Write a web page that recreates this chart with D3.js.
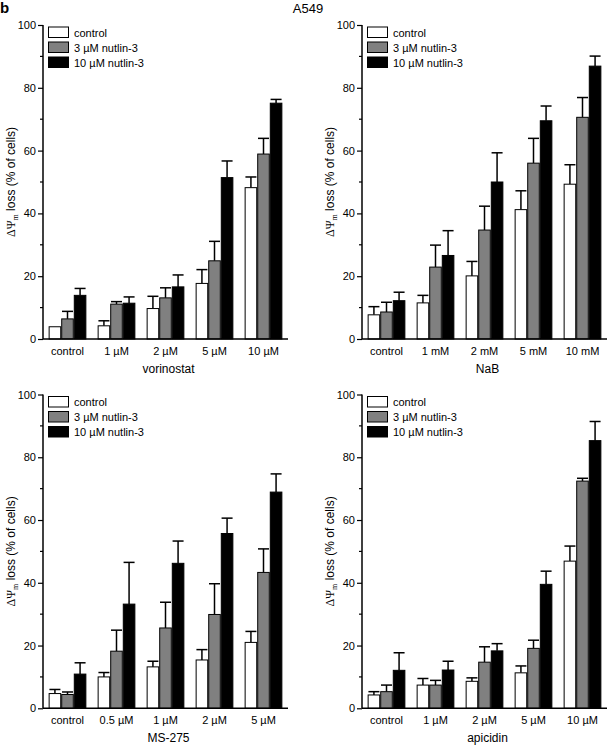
<!DOCTYPE html>
<html><head><meta charset="utf-8">
<script src="https://cdn.jsdelivr.net/npm/d3@7"></script>
<style>body{margin:0;background:#fff}svg{display:block}text{font-family:"Liberation Sans",Arial,sans-serif}</style>
</head><body>
<svg id="c" width="607" height="746"></svg>
<script>
const seriesNames = ["control", "3 µM nutlin-3", "10 µM nutlin-3"];
const seriesColors = ["#ffffff", "#808080", "#000000"];
const yTicks = [0, 20, 40, 60, 80, 100];
const yMinorTicks = [10, 30, 50, 70, 90];

const vorinostatCats = ["control", "1 µM", "2 µM", "5 µM", "10 µM"];
const vorinostatMean = [[3.9, 4.2, 9.7, 17.7, 48.2], [6.4, 11.1, 13.1, 24.9, 58.9], [13.9, 11.4, 16.6, 51.4, 75.1]];
const vorinostatErr  = [[3.9, 5.8, 13.6, 22.1, 51.6], [8.8, 11.9, 16.3, 31.1, 63.9], [16.1, 13.4, 20.4, 56.7, 76.3]];

const nabCats = ["control", "1 mM", "2 mM", "5 mM", "10 mM"];
const nabMean = [[7.7, 11.5, 20.1, 41.2, 49.3], [8.6, 22.9, 34.7, 56.0, 70.6], [12.2, 26.6, 50.0, 69.5, 86.9]];
const nabErr  = [[10.3, 13.9, 24.7, 47.2, 55.5], [11.7, 29.9, 42.3, 63.9, 76.9], [14.9, 34.5, 59.3, 74.2, 90.1]];

const ms275Cats = ["control", "0.5 µM", "1 µM", "2 µM", "5 µM"];
const ms275Mean = [[4.7, 10.0, 13.2, 15.4, 21.0], [4.4, 18.2, 25.6, 29.9, 43.3], [10.9, 33.2, 46.2, 55.7, 68.9]];
const ms275Err  = [[6.0, 11.4, 15.0, 18.7, 24.5], [5.2, 24.9, 33.8, 39.7, 50.8], [14.5, 46.5, 53.3, 60.6, 74.7]];

const apicidinCats = ["control", "1 µM", "2 µM", "5 µM", "10 µM"];
const apicidinMean = [[4.25, 7.4, 8.6, 11.3, 46.9], [5.3, 7.4, 14.7, 19.1, 72.4], [12.1, 12.2, 18.3, 39.5, 85.3]];
const apicidinErr  = [[5.3, 9.5, 9.7, 13.5, 51.7], [7.4, 8.9, 19.6, 21.7, 73.3], [17.7, 15.0, 20.6, 43.7, 91.4]];

const panels = [
  {title: "vorinostat", cats: vorinostatCats, mean: vorinostatMean, err: vorinostatErr, x0: 43, x1: 288, top: 25, bottom: 339},
  {title: "NaB", cats: nabCats, mean: nabMean, err: nabErr, x0: 362, x1: 607, top: 25, bottom: 339},
  {title: "MS-275", cats: ms275Cats, mean: ms275Mean, err: ms275Err, x0: 43, x1: 288, top: 394.5, bottom: 708.3},
  {title: "apicidin", cats: apicidinCats, mean: apicidinMean, err: apicidinErr, x0: 362, x1: 607, top: 394.5, bottom: 708.3}
];

const svg = d3.select("#c");
svg.append("text").attr("x", 0).attr("y", 13).attr("font-size", 15).attr("font-weight", "bold").text("b");
svg.append("text").attr("x", 308).attr("y", 13).attr("font-size", 13).attr("text-anchor", "middle").text("A549");

panels.forEach(p => {
  const g = svg.append("g");
  const y = d3.scaleLinear().domain([0, 100]).range([p.bottom, p.top]);
  const x = d3.scaleBand().domain(p.cats).range([p.x0, p.x1]).paddingInner(0.23).paddingOuter(0.115);
  const xs = d3.scaleBand().domain(d3.range(3)).range([0, x.bandwidth()]);

  // bars
  p.cats.forEach((c, i) => {
    for (let s = 0; s < 3; s++) {
      const bx = x(c) + xs(s);
      const cx = bx + xs.bandwidth() / 2;
      const v = p.mean[s][i], e = p.err[s][i];
      if (e > v + 0.05) {
        g.append("line").attr("x1", cx).attr("x2", cx).attr("y1", y(v)).attr("y2", y(e)).attr("stroke", "#000").attr("stroke-width", 1.5);
        g.append("line").attr("x1", cx - 5.5).attr("x2", cx + 5.5).attr("y1", y(e)).attr("y2", y(e)).attr("stroke", "#000").attr("stroke-width", 1.5);
      }
      g.append("rect").attr("x", bx + 0.5).attr("y", y(v)).attr("width", xs.bandwidth() - 1).attr("height", y(0) - y(v))
        .attr("fill", seriesColors[s]).attr("stroke", "#000").attr("stroke-width", 1);
    }
  });

  // y axis
  const ya = g.append("g").attr("transform", `translate(${p.x0},0)`)
    .call(d3.axisLeft(y).tickValues(yTicks).tickSize(5).tickPadding(2).tickFormat(d3.format("d")));
  ya.select(".domain").attr("stroke-width", 1.5).attr("d", `M0,${p.bottom}V${p.top}`);
  ya.selectAll(".tick line").attr("stroke-width", 1.2);
  ya.selectAll(".tick text").attr("font-size", 11).attr("font-family", "Liberation Sans, Arial, sans-serif").attr("fill", "#000");
  ya.selectAll(".minor").data(yMinorTicks).enter().append("line").attr("class", "minor")
    .attr("x1", -3).attr("x2", 0).attr("y1", d => y(d)).attr("y2", d => y(d)).attr("stroke", "#000").attr("stroke-width", 1.2);

  // x axis
  const xa = g.append("g").attr("transform", `translate(0,${p.bottom})`)
    .call(d3.axisBottom(x).tickSize(0).tickPadding(8));
  xa.select(".domain").attr("stroke-width", 1.5).attr("d", `M${p.x0},0H${p.x1}`);
  xa.selectAll(".tick text").attr("font-size", 11).attr("font-family", "Liberation Sans, Arial, sans-serif").attr("fill", "#000");

  g.append("text").attr("x", (p.x0 + p.x1) / 2 + 3).attr("y", p.bottom + 34).attr("text-anchor", "middle").attr("font-size", 12).text(p.title);

  // y label
  const cy = (p.top + p.bottom) / 2;
  const lab = g.append("text").attr("transform", `translate(${p.x0 - 28},${cy}) rotate(-90)`).attr("text-anchor", "middle").attr("font-size", 12);
  lab.append("tspan").attr("font-family", "Liberation Serif, Times New Roman, serif").text("ΔΨ");
  lab.append("tspan").attr("font-family", "Liberation Serif, serif").attr("font-size", 8).attr("dy", 3).text("m");
  lab.append("tspan").attr("dy", -3).text(" loss (% of cells)");

  // legend
  seriesNames.forEach((n, s) => {
    const ly = p.top + 2 + s * 15;
    g.append("rect").attr("x", p.x0 + 5.5).attr("y", ly).attr("width", 20).attr("height", 10.5)
      .attr("fill", seriesColors[s]).attr("stroke", "#000").attr("stroke-width", 1);
    g.append("text").attr("x", p.x0 + 31).attr("y", ly + 9.5).attr("font-size", 11).text(n);
  });
});
</script>
</body></html>
